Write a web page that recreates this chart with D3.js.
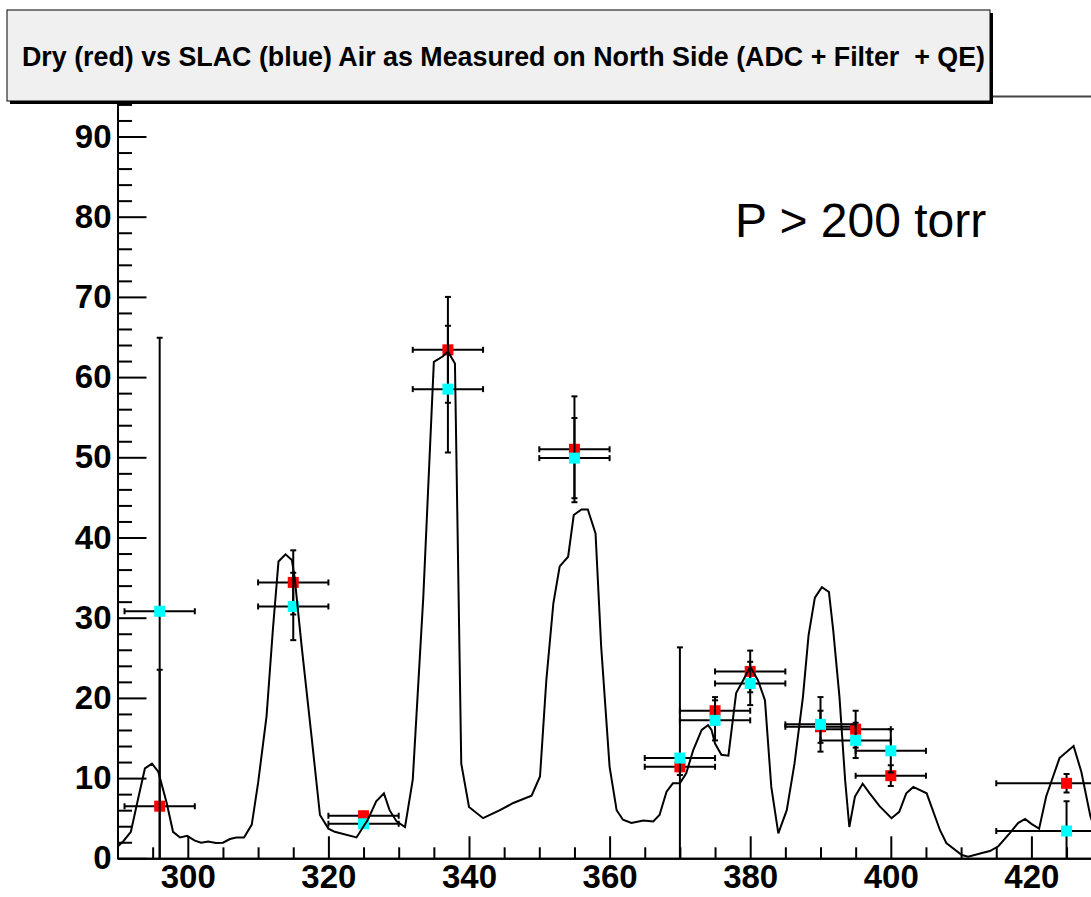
<!DOCTYPE html>
<html lang="en">
<head>
    <meta charset="UTF-8">
    <title>Dry vs SLAC Air</title>
    <script src="https://cdn.jsdelivr.net/npm/d3@7"></script>
    <style>
        body { margin: 0; background: white; }
        svg { display: block; }
        .axis text { font-family: "Liberation Sans", Arial, sans-serif; font-weight: bold; font-size: 33px; fill: black; }
        .axis path, .axis line { stroke: black; stroke-width: 2; }
    </style>
</head>
<body>
<script>
    const width = 1091, height = 897;

    // filter wavelength centres (nm) and half widths
    const wavelengths = [296, 315, 325, 337, 355, 370, 375, 380, 390, 395, 400, 425];
    const wlErr       = [5, 5, 5, 5, 5, 5, 5, 5, 5, 5, 5, 10];

    // dry air (red)
    const dryValues = [6.5, 34.4, 5.3, 63.4, 51.0, 11.4, 18.4, 23.3, 16.4, 16.1, 10.3, 9.35];
    const dryErr    = [17.0, 4.0, 0.5, 6.6, 6.6, 1.0, 1.7, 2.6, 2.0, 2.3, 1.3, 1.15];

    // SLAC air (blue)
    const slacValues = [30.8, 31.4, 4.3, 58.5, 49.9, 12.5, 17.2, 21.8, 16.7, 14.7, 13.4, 3.4];
    const slacErr    = [34.1, 4.2, 0.4, 7.9, 5.0, 13.8, 2.5, 2.7, 3.4, 2.2, 2.7, 3.7];

    // reference spectrum (black line)
    const specX = [290.0, 290.8, 291.9, 292.9, 293.9, 294.9, 295.8, 297.0, 297.9, 298.9, 299.9, 301.0,
        301.9, 302.9, 304.0, 305.0, 306.0, 306.9, 308.0, 309.1, 310.0, 311.2, 312.1, 312.9, 313.9,
        314.8, 315.2, 316.2, 317.6, 318.8, 320.0, 320.9, 324.0, 325.6, 326.8, 327.9, 328.7, 329.7,
        330.9, 332.0, 333.5, 335.0, 336.3, 337.0, 338.0, 338.9, 340.0, 342.0, 344.4, 346.3, 348.9,
        350.1, 351.0, 352.0, 352.9, 354.1, 354.9, 356.0, 356.9, 358.0, 358.8, 360.0, 361.0, 361.9,
        363.1, 364.8, 366.2, 367.1, 368.1, 369.0, 370.0, 370.9, 371.9, 373.1, 374.0, 374.5, 375.0,
        375.9, 376.9, 378.0, 379.0, 380.0, 381.1, 382.1, 383.0, 384.0, 385.2, 386.3, 387.5, 388.3,
        389.2, 390.2, 391.2, 391.8, 392.7, 393.5, 394.1, 394.9, 396.0, 397.0, 398.4, 400.1, 401.2,
        402.2, 403.2, 405.1, 407.0, 407.9, 410.1, 411.0, 413.1, 414.1, 415.3, 416.9, 418.1, 419.1,
        420.0, 421.1, 422.1, 424.0, 426.0, 427.1, 428.4, 429.5];
    const specY = [1.45, 2.1, 3.3, 7.3, 11.2, 11.8, 10.8, 6.9, 3.3, 2.6, 2.8, 2.2,
        1.95, 2.1, 1.9, 1.95, 2.4, 2.6, 2.6, 4.2, 9.4, 17.7, 28.5, 37.0, 37.9,
        37.2, 35.0, 26.4, 15.2, 5.4, 3.7, 3.3, 2.6, 4.8, 7.1, 8.1, 6.0, 4.6,
        3.9, 9.8, 32.6, 61.9, 62.6, 63.2, 61.7, 11.8, 6.4, 5.0, 6.0, 6.9, 7.8,
        10.2, 22.2, 31.8, 36.4, 37.6, 42.8, 43.5, 43.5, 40.5, 26.4, 11.4, 6.0, 4.8,
        4.4, 4.7, 4.6, 5.4, 8.3, 9.35, 9.35, 10.6, 13.5, 16.0, 16.6, 16.0, 14.3,
        12.9, 12.8, 20.6, 22.2, 23.9, 22.2, 19.7, 8.9, 3.1, 6.0, 11.8, 20.1, 27.8,
        32.5, 33.8, 33.2, 28.5, 20.1, 9.8, 3.9, 7.7, 9.3, 8.1, 6.5, 5.0, 5.8,
        8.1, 8.9, 8.1, 3.5, 1.9, 0.4, 0.2, 0.7, 0.9, 1.5, 3.1, 4.4, 4.9,
        4.3, 3.7, 7.7, 12.5, 14.0, 10.8, 5.2, 2.5];

    const xMajor = [300, 320, 340, 360, 380, 400, 420];
    const yMajor = [0, 10, 20, 30, 40, 50, 60, 70, 80, 90];

    const titleText = "Dry (red) vs SLAC (blue) Air as Measured on North Side (ADC + Filter  + QE)";
    const noteText = "P > 200 torr";

    const svg = d3.select("body")
                  .append("svg")
                  .attr("width", width)
                  .attr("height", height);

    const x = d3.scaleLinear().domain([290, 430]).range([117.5, 1101.7]);
    const y = d3.scaleLinear().domain([0, 95]).range([858.3, 96.4]);

    svg.append("clipPath").attr("id", "plot")
       .append("rect")
       .attr("x", x(290)).attr("y", y(95))
       .attr("width", width - x(290)).attr("height", y(0) - y(95));

    // frame top line
    svg.append("line")
       .attr("x1", x(290)).attr("x2", width)
       .attr("y1", y(95)).attr("y2", y(95))
       .attr("stroke", "#444").attr("stroke-width", 2);

    // axes, ticks drawn inside the frame
    const minorX = d3.range(295, 431, 5).filter(v => v % 20 !== 0);
    const minorY = d3.range(0, 95, 2).filter(v => v % 10 !== 0);

    svg.append("g").attr("class", "axis")
       .attr("transform", `translate(0,${y(0)})`)
       .call(d3.axisBottom(x).tickValues(minorX).tickSize(-11).tickSizeOuter(0).tickFormat(""));
    svg.append("g").attr("class", "axis")
       .attr("transform", `translate(0,${y(0)})`)
       .call(d3.axisBottom(x).tickValues(xMajor).tickSize(-22).tickSizeOuter(0).tickPadding(6).tickFormat(d3.format("d")));

    svg.append("g").attr("class", "axis")
       .attr("transform", `translate(${x(290)},0)`)
       .call(d3.axisLeft(y).tickValues(minorY).tickSize(-14.5).tickSizeOuter(0).tickFormat(""));
    svg.append("g").attr("class", "axis")
       .attr("transform", `translate(${x(290)},0)`)
       .call(d3.axisLeft(y).tickValues(yMajor).tickSize(-29).tickSizeOuter(0).tickPadding(6).tickFormat(d3.format("d")));

    const plot = svg.append("g").attr("clip-path", "url(#plot)");

    function drawSeries(values, errs, color) {
        const pts = wavelengths.map((w, i) => ({w: w, ex: wlErr[i], v: values[i], ey: errs[i]}));
        const g = plot.append("g").attr("stroke", "black").attr("stroke-width", 2);
        const cap = 3;
        pts.forEach(d => {
            const cx = x(d.w), cy = y(d.v);
            const x0 = x(d.w - d.ex), x1 = x(d.w + d.ex);
            const yTop = y(d.v + d.ey), yBot = y(Math.max(d.v - d.ey, 0));
            g.append("line").attr("x1", x0).attr("x2", x1).attr("y1", cy).attr("y2", cy);
            g.append("line").attr("x1", x0).attr("x2", x0).attr("y1", cy - cap).attr("y2", cy + cap);
            g.append("line").attr("x1", x1).attr("x2", x1).attr("y1", cy - cap).attr("y2", cy + cap);
            g.append("line").attr("x1", cx).attr("x2", cx).attr("y1", yTop).attr("y2", yBot);
            g.append("line").attr("x1", cx - cap).attr("x2", cx + cap).attr("y1", yTop).attr("y2", yTop);
            if (d.v - d.ey > 0) {
                g.append("line").attr("x1", cx - cap).attr("x2", cx + cap).attr("y1", yBot).attr("y2", yBot);
            }
        });
        plot.append("g").selectAll("rect")
            .data(pts)
            .join("rect")
            .attr("x", d => x(d.w) - 5.5)
            .attr("y", d => y(d.v) - 5.5)
            .attr("width", 11).attr("height", 11)
            .attr("fill", color);
    }

    drawSeries(dryValues, dryErr, "#ff0000");
    drawSeries(slacValues, slacErr, "#00ffff");

    const line = d3.line().x(d => x(d[0])).y(d => y(d[1]));
    plot.append("path")
        .datum(d3.zip(specX, specY))
        .attr("d", line)
        .attr("fill", "none")
        .attr("stroke", "black")
        .attr("stroke-width", 2);

    // title box with shadow
    svg.append("rect").attr("x", 10).attr("y", 13).attr("width", 983).attr("height", 91).attr("fill", "black");
    svg.append("rect").attr("x", 7).attr("y", 10).attr("width", 983).attr("height", 91)
       .attr("fill", "#f0f0f0").attr("stroke", "black").attr("stroke-width", 1);
    svg.append("text")
       .attr("x", 22).attr("y", 66)
       .attr("textLength", 963).attr("lengthAdjust", "spacingAndGlyphs")
       .style("white-space", "pre")
       .style("font-family", "'Liberation Sans', Arial, sans-serif")
       .style("font-weight", "bold").style("font-size", "28px")
       .text(titleText);

    svg.append("text")
       .attr("x", 735).attr("y", 237)
       .style("font-family", "'Liberation Sans', Arial, sans-serif")
       .style("font-size", "48px")
       .text(noteText);
</script>
</body>
</html>
